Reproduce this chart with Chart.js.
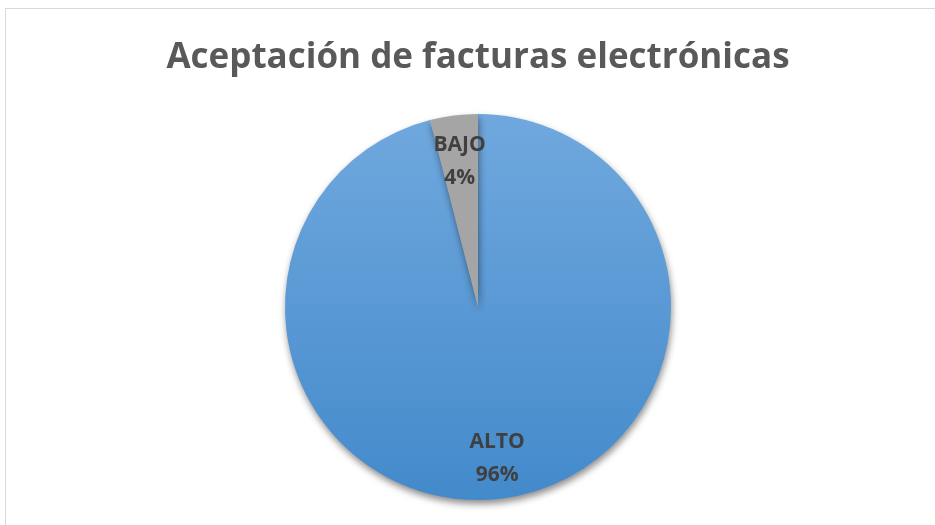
<!DOCTYPE html>
<html>
<head>
<meta charset="utf-8">
<script src="https://cdn.jsdelivr.net/npm/chart.js@4"></script>
<style>
  html, body { margin: 0; padding: 0; background: #ffffff; }
  #wrap { position: relative; width: 935px; height: 525px; overflow: hidden; }
  #frame { position: absolute; left: 5px; top: 8px; width: 940px; height: 530px; border: 1px solid #d9d9d9; box-sizing: border-box; }
  canvas { position: absolute; left: 0; top: 0; }
</style>
</head>
<body>
<div id="wrap">
  <div id="frame"></div>
  <canvas id="c" width="935" height="525"></canvas>
</div>
<script>
const titleText = 'Aceptación de facturas electrónicas';
const categories = ['ALTO', 'BAJO'];
const values = [96, 4];
const percentLabels = ['96%', '4%'];

function sliceColor(context) {
  if (context.dataIndex === 1) return '#a5a5a5';
  const chart = context.chart;
  const area = chart.chartArea;
  if (!area) return '#5b9bd5';
  const g = chart.ctx.createLinearGradient(0, area.top, 0, area.bottom);
  g.addColorStop(0, '#70a8de');
  g.addColorStop(1, '#438acb');
  return g;
}

const shadowPlugin = {
  id: 'shadow',
  beforeDatasetDraw(chart) {
    const ctx = chart.ctx;
    ctx.save();
    ctx.shadowColor = 'rgba(0,0,0,0.45)';
    ctx.shadowBlur = 7;
    ctx.shadowOffsetX = 1;
    ctx.shadowOffsetY = 4;
  },
  afterDatasetDraw(chart) {
    chart.ctx.restore();
  }
};

const labelPlugin = {
  id: 'sliceLabels',
  afterDatasetsDraw(chart) {
    const ctx = chart.ctx;
    const meta = chart.getDatasetMeta(0);
    ctx.save();
    ctx.fillStyle = '#404040';
    ctx.font = 'bold 21px "Open Sans", sans-serif';
    ctx.textAlign = 'center';
    ctx.textBaseline = 'middle';
    const factors = [0.79, 0.76];
    meta.data.forEach((arc, i) => {
      const p = arc.getProps(['x', 'y', 'startAngle', 'endAngle', 'outerRadius'], true);
      const mid = (p.startAngle + p.endAngle) / 2;
      const r = p.outerRadius * factors[i];
      const cx = p.x + Math.cos(mid) * r;
      const cy = p.y + Math.sin(mid) * r;
      ctx.fillText(categories[i], cx, cy - 16);
      ctx.fillText(percentLabels[i], cx, cy + 17);
    });
    ctx.restore();
  }
};

new Chart(document.getElementById('c'), {
  type: 'pie',
  data: {
    labels: categories,
    datasets: [{
      data: values,
      backgroundColor: sliceColor,
      borderWidth: 0,
      hoverOffset: 0
    }]
  },
  options: {
    responsive: false,
    animation: false,
    events: [],
    layout: { padding: { left: 21, right: 0, top: 0, bottom: 25 } },
    plugins: {
      legend: { display: false },
      tooltip: { enabled: false },
      title: {
        display: true,
        text: titleText,
        color: '#595959',
        font: { family: '"Open Sans", sans-serif', size: 35, weight: 'bold', lineHeight: 1.2 },
        padding: { top: 37, bottom: 35 }
      }
    }
  },
  plugins: [shadowPlugin, labelPlugin]
});
</script>
</body>
</html>
